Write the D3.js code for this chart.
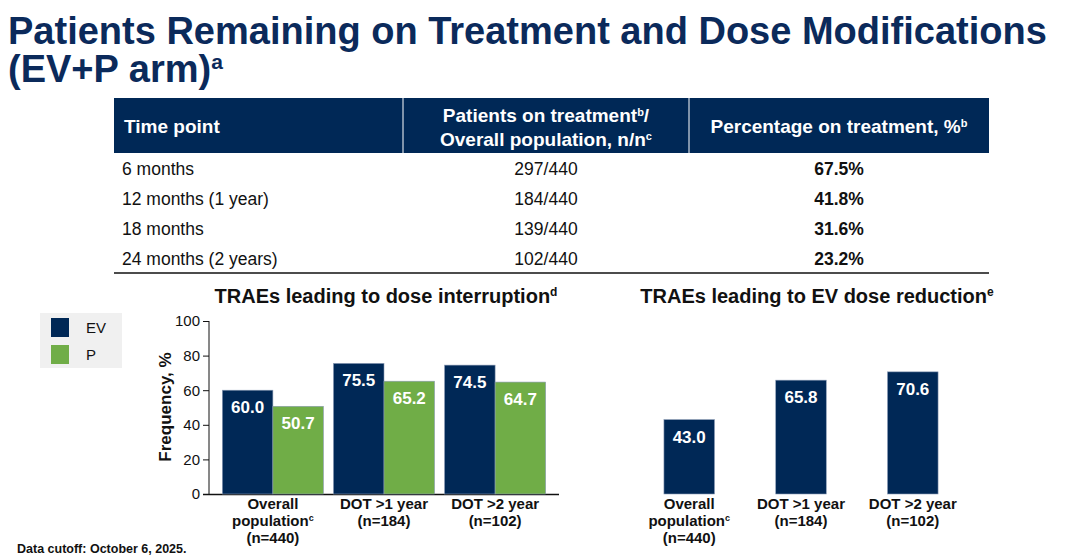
<!DOCTYPE html>
<html lang="en">
<head>
<meta charset="utf-8" />
<title>Patients Remaining on Treatment</title>
<style>
  body { margin: 0; background: #fff; }
  svg { font-family: "Liberation Sans", Arial, sans-serif; }
</style>
<script src="https://d3js.org/d3.v7.min.js"></script>
</head>
<body>
<script>
// table data
const timePoints = ["6 months", "12 months (1 year)", "18 months", "24 months (2 years)"];
const onTreatment = ["297/440", "184/440", "139/440", "102/440"];
const pctOnTreatment = [67.5, 41.8, 31.6, 23.2];

// chart data
const groups = ["Overall population", "DOT >1 year", "DOT >2 year"];
const groupN = ["(n=440)", "(n=184)", "(n=102)"];
const series = ["EV", "P"];
const interruptEV = [60.0, 75.5, 74.5];
const interruptP = [50.7, 65.2, 64.7];
const reductionEV = [43.0, 65.8, 70.6];
const yTicks = [0, 20, 40, 60, 80, 100];

const navy = "#002856", green = "#70ad47";

const svg = d3.select("body").append("svg")
  .attr("width", 1080).attr("height", 557);

// title
const title = svg.append("text").attr("x", 8).attr("fill", "#0b2a5b")
  .style("font-size", "38px").style("font-weight", "bold");
title.append("tspan").attr("x", 8).attr("y", 44).text("Patients Remaining on Treatment and Dose Modifications");
title.append("tspan").attr("x", 8).attr("y", 82).text("(EV+P arm)");
title.append("tspan").attr("dy", -13).style("font-size", "21px").text("a");

// table
const tbl = svg.append("g");
tbl.append("rect").attr("x", 114).attr("y", 98).attr("width", 875).attr("height", 55).attr("fill", navy);
[403, 689].forEach(x => tbl.append("line").attr("x1", x).attr("x2", x).attr("y1", 98).attr("y2", 153)
  .attr("stroke", "#fff").attr("stroke-width", 1));
const hdr = tbl.append("g").attr("fill", "#fff").style("font-weight", "bold").style("font-size", "19px");
hdr.append("text").attr("x", 124).attr("y", 133).text("Time point");
let h = hdr.append("text").attr("x", 546).attr("y", 122).attr("text-anchor", "middle");
h.append("tspan").text("Patients on treatment"); h.append("tspan").attr("dy", -6).style("font-size", "11px").text("b");
h.append("tspan").attr("dy", 6).text("/");
h = hdr.append("text").attr("x", 546).attr("y", 146).attr("text-anchor", "middle");
h.append("tspan").text("Overall population, n/n"); h.append("tspan").attr("dy", -6).style("font-size", "11px").text("c");
h = hdr.append("text").attr("x", 839).attr("y", 133).attr("text-anchor", "middle");
h.append("tspan").text("Percentage on treatment, %"); h.append("tspan").attr("dy", -6).style("font-size", "11px").text("b");

const rowY = d3.scalePoint().domain(timePoints).range([175, 265]);
timePoints.forEach((tp, i) => {
  const yy = rowY(tp);
  tbl.append("text").attr("x", 122).attr("y", yy).style("font-size", "17.5px").attr("fill", "#111").text(tp);
  tbl.append("text").attr("x", 546).attr("y", yy).attr("text-anchor", "middle").style("font-size", "17.5px").attr("fill", "#111").text(onTreatment[i]);
  tbl.append("text").attr("x", 839).attr("y", yy).attr("text-anchor", "middle").style("font-size", "17.5px")
    .style("font-weight", "bold").attr("fill", "#111").text(pctOnTreatment[i].toFixed(1) + "%");
});
tbl.append("line").attr("x1", 114).attr("x2", 989).attr("y1", 273).attr("y2", 273).attr("stroke", "#111").attr("stroke-width", 1.5);

// scales
const y = d3.scaleLinear().domain([0, 100]).range([494, 321]);
const xL = d3.scaleBand().domain(groups).range([219, 549]).paddingInner(0.09).paddingOuter(0.03);
const xR = d3.scaleBand().domain(groups).range([635, 967]).paddingInner(0.09).paddingOuter(0.03);

// chart titles
function chartTitle(x, text, s) {
  const t = svg.append("text").attr("x", x).attr("y", 303).attr("text-anchor", "middle")
    .style("font-size", "20px").style("font-weight", "bold").attr("fill", "#111").text(text);
  t.append("tspan").attr("dy", -7).style("font-size", "12px").text(s);
}
chartTitle(386, "TRAEs leading to dose interruption", "d");
chartTitle(817, "TRAEs leading to EV dose reduction", "e");

// left axis
const ax = svg.append("g").attr("transform", "translate(209,0)")
  .call(d3.axisLeft(y).tickValues(yTicks).tickSize(6));
ax.selectAll("text").style("font-size", "15px").attr("fill", "#111");
ax.selectAll("line,path").attr("stroke", "#111");
ax.select(".domain").attr("d", "M0,321V494");
svg.append("line").attr("x1", 203).attr("x2", 559).attr("y1", 494.5).attr("y2", 494.5).attr("stroke", "#111").attr("stroke-width", 1.5);
svg.append("text").attr("transform", "translate(171,407) rotate(-90)").attr("text-anchor", "middle")
  .style("font-size", "17px").style("font-weight", "bold").attr("fill", "#111").text("Frequency, %");

function drawBars(x, vals, offset, bw, color) {
  const g = svg.append("g");
  g.selectAll("rect").data(vals).join("rect")
    .attr("x", (d, i) => x(groups[i]) + offset).attr("width", bw)
    .attr("y", d => y(d)).attr("height", d => y(0) - y(d))
    .attr("fill", color).attr("stroke", "#8a9bb5").attr("stroke-width", 0.6);
  g.selectAll("text").data(vals).join("text")
    .attr("x", (d, i) => x(groups[i]) + offset + bw / 2).attr("y", d => y(d) + 23)
    .attr("text-anchor", "middle").attr("fill", "#fff").style("font-size", "17px").style("font-weight", "bold")
    .text(d => d.toFixed(1));
}
const half = xL.bandwidth() / 2;
drawBars(xL, interruptEV, 0, half, navy);
drawBars(xL, interruptP, half, half, green);
drawBars(xR, reductionEV, (xR.bandwidth() - half) / 2, half, navy);

// category labels
function catLabels(x) {
  groups.forEach((gname, i) => {
    const cx = x(gname) + x.bandwidth() / 2;
    const t = svg.append("g").attr("fill", "#111").style("font-size", "15px").style("font-weight", "bold");
    if (i === 0) {
      t.append("text").attr("x", cx).attr("y", 509).attr("text-anchor", "middle").text("Overall");
      const p = t.append("text").attr("x", cx).attr("y", 526).attr("text-anchor", "middle");
      p.append("tspan").text("population"); p.append("tspan").attr("dy", -5).style("font-size", "9px").text("c");
      t.append("text").attr("x", cx).attr("y", 543).attr("text-anchor", "middle").text(groupN[i]);
    } else {
      t.append("text").attr("x", cx).attr("y", 509).attr("text-anchor", "middle").text(gname);
      t.append("text").attr("x", cx).attr("y", 526).attr("text-anchor", "middle").text(groupN[i]);
    }
  });
}
catLabels(xL);
catLabels(xR);

// legend
const lg = svg.append("g");
lg.append("rect").attr("x", 40).attr("y", 313).attr("width", 82).attr("height", 55).attr("fill", "#f0f0f0");
series.forEach((s, i) => {
  lg.append("rect").attr("x", 51).attr("y", 318 + i * 27).attr("width", 18).attr("height", 19).attr("fill", i ? green : navy);
  lg.append("text").attr("x", 86).attr("y", 333 + i * 27).style("font-size", "15px").attr("fill", "#111").text(s);
});

svg.append("text").attr("x", 17).attr("y", 553).style("font-size", "12.5px").style("font-weight", "bold")
  .attr("fill", "#111").text("Data cutoff: October 6, 2025.");
</script>
</body>
</html>
